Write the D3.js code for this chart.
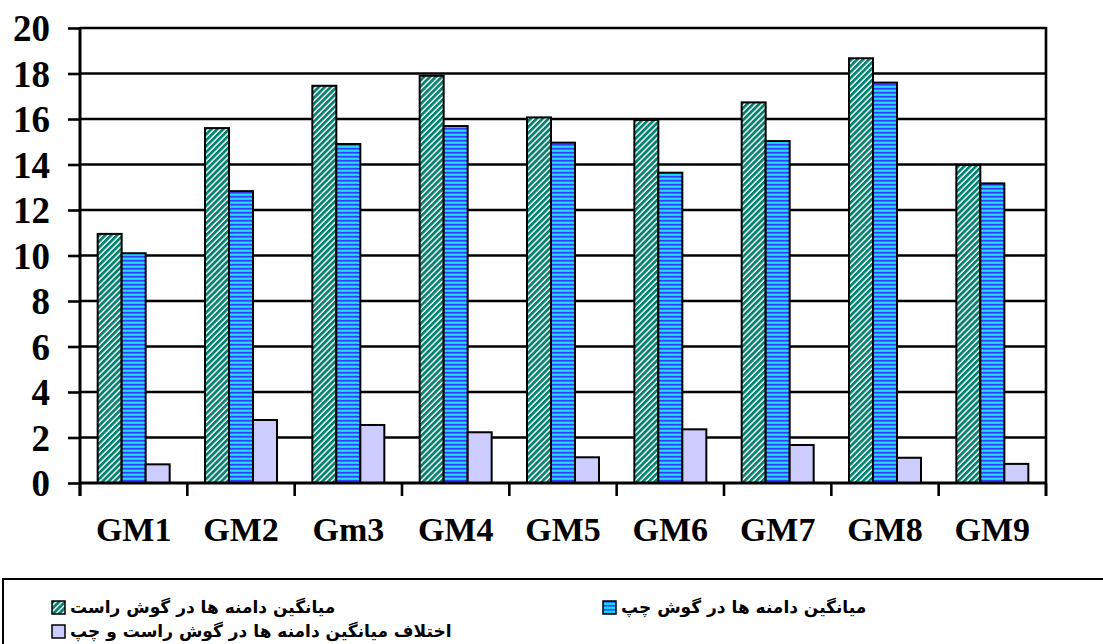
<!DOCTYPE html>
<html>
<head>
<meta charset="utf-8">
<script src="https://cdn.jsdelivr.net/npm/d3@7"></script>
<style>
  html, body { margin: 0; padding: 0; background: #fff; }
  svg { display: block; }
</style>
</head>
<body>
<svg id="chart" width="1103" height="644"></svg>
<script>
const categories = ["GM1", "GM2", "Gm3", "GM4", "GM5", "GM6", "GM7", "GM8", "GM9"];
const rightEar = [10.95, 15.6, 17.46, 17.9, 16.07, 15.96, 16.73, 18.67, 13.98];
const leftEar  = [10.1, 12.83, 14.9, 15.69, 14.96, 13.64, 15.03, 17.6, 13.17];
const diffEar  = [0.82, 2.77, 2.55, 2.23, 1.13, 2.36, 1.67, 1.11, 0.84];
const seriesNames = [
  "میانگین دامنه ها در گوش راست",
  "میانگین دامنه ها در گوش چپ",
  "اختلاف میانگین دامنه ها در گوش راست و چپ"
];
const yTicks = [0, 2, 4, 6, 8, 10, 12, 14, 16, 18, 20];

const series = [
  { key: "right", name: seriesNames[0], values: rightEar, fill: "url(#hatchTeal)" },
  { key: "left",  name: seriesNames[1], values: leftEar,  fill: "url(#stripeBlue)" },
  { key: "diff",  name: seriesNames[2], values: diffEar,  fill: "#ccccff" }
];

const svg = d3.select("#chart");
const L = 80, R = 1046, T = 28, B = 483;

// patterns
const defs = svg.append("defs");
const p1 = defs.append("pattern").attr("id", "hatchTeal")
  .attr("patternUnits", "userSpaceOnUse").attr("width", 4.2).attr("height", 4.2)
  .attr("patternTransform", "rotate(45)");
p1.append("rect").attr("width", 4.2).attr("height", 4.2).attr("fill", "#ffffff");
p1.append("rect").attr("width", 2.8).attr("height", 4.2).attr("fill", "#07806f");

const p2 = defs.append("pattern").attr("id", "stripeBlue")
  .attr("patternUnits", "userSpaceOnUse").attr("width", 4).attr("height", 4);
p2.append("rect").attr("width", 4).attr("height", 4).attr("fill", "#00c8ff");
p2.append("rect").attr("y", 0).attr("width", 4).attr("height", 1.5).attr("fill", "#3a3aff");
p2.append("rect").attr("y", 2.4).attr("width", 4).attr("height", 0.8).attr("fill", "#33eeff");

const x = d3.scaleBand().domain(categories).range([L, R]).paddingInner(0).paddingOuter(0);
const xs = d3.scaleBand().domain(series.map(s => s.key)).range([0, x.bandwidth()])
  .paddingInner(0).paddingOuter(0.736);
const y = d3.scaleLinear().domain([0, 20]).range([B, T]);

// gridlines
svg.append("g").selectAll("line").data(yTicks.filter(v => v > 0)).join("line")
  .attr("x1", L).attr("x2", R).attr("y1", d => y(d)).attr("y2", d => y(d))
  .attr("stroke", "#000").attr("stroke-width", 2.6);

// bars
const groups = svg.append("g").selectAll("g").data(series).join("g");
groups.selectAll("rect").data(s => s.values.map((v, i) => ({ v, c: categories[i], s })))
  .join("rect")
  .attr("x", d => x(d.c) + xs(d.s.key))
  .attr("y", d => y(d.v))
  .attr("width", xs.bandwidth())
  .attr("height", d => B - y(d.v))
  .attr("fill", d => d.s.fill)
  .attr("stroke", "#000").attr("stroke-width", 2);

// y axis with ticks and labels
const yAxis = d3.axisLeft(y).tickValues(yTicks).tickSize(12).tickPadding(18).tickFormat(d3.format("d"));
const ya = svg.append("g").attr("transform", `translate(${L},0)`).call(yAxis);
ya.select(".domain").remove();
ya.selectAll(".tick line").attr("stroke", "#000").attr("stroke-width", 2.6);
ya.selectAll(".tick text")
  .attr("font-family", "'Liberation Serif', 'Times New Roman', serif")
  .attr("font-weight", "bold").attr("font-size", 37).attr("fill", "#000")
  .attr("dy", "0.34em");

// axis lines
svg.append("line").attr("x1", L).attr("x2", L).attr("y1", T - 1).attr("y2", B + 13)
  .attr("stroke", "#000").attr("stroke-width", 3);
svg.append("line").attr("x1", R).attr("x2", R).attr("y1", T - 1).attr("y2", B + 13)
  .attr("stroke", "#000").attr("stroke-width", 2.6);
svg.append("line").attr("x1", L).attr("x2", R).attr("y1", B).attr("y2", B)
  .attr("stroke", "#000").attr("stroke-width", 3);

// x category boundary ticks
const bounds = categories.map(c => x(c)).concat([x.range()[1]]);
svg.append("g").selectAll("line").data(bounds).join("line")
  .attr("x1", d => d).attr("x2", d => d).attr("y1", B).attr("y2", B + 13)
  .attr("stroke", "#000").attr("stroke-width", 2.6);

// x labels
svg.append("g").selectAll("text").data(categories).join("text")
  .attr("x", d => x(d) + x.bandwidth() / 2).attr("y", 541)
  .attr("text-anchor", "middle")
  .attr("font-family", "'Liberation Serif', 'Times New Roman', serif")
  .attr("font-weight", "bold").attr("font-size", 34).attr("fill", "#000")
  .text(d => d);

// legend
svg.append("rect").attr("x", 3).attr("y", 579).attr("width", 1110).attr("height", 80)
  .attr("fill", "#fff").attr("stroke", "#000").attr("stroke-width", 2);

const legendPos = [
  { sx: 52, sy: 601 },
  { sx: 603, sy: 601 },
  { sx: 52, sy: 625 }
];
const lg = svg.append("g").selectAll("g").data(series).join("g")
  .attr("transform", (d, i) => `translate(${legendPos[i].sx},${legendPos[i].sy})`);
lg.append("rect").attr("width", 13).attr("height", 13)
  .attr("fill", d => d.fill).attr("stroke", "#000").attr("stroke-width", 1.5);
lg.append("text").attr("x", 18).attr("y", 12)
  .attr("text-anchor", "start")
  .attr("font-family", "'DejaVu Sans', 'Liberation Sans', sans-serif")
  .attr("font-weight", "bold").attr("font-size", 17).attr("fill", "#000")
  .text(d => d.name);
</script>
</body>
</html>
